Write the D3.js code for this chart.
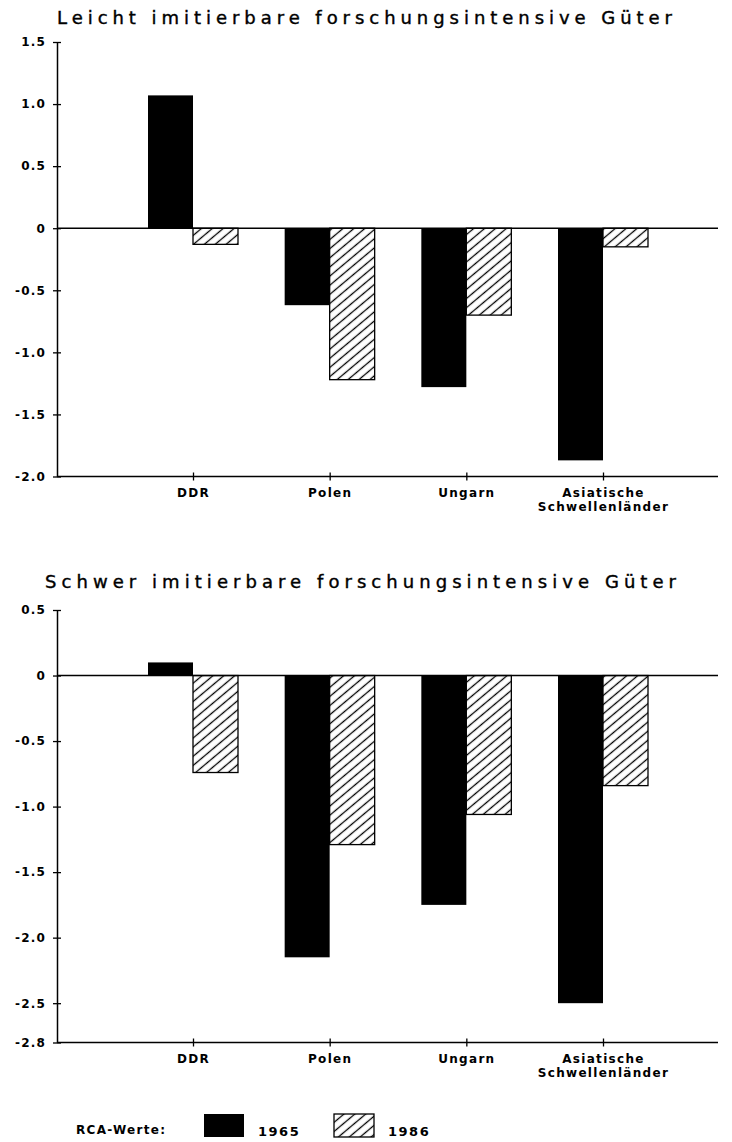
<!DOCTYPE html>
<html>
<head>
<meta charset="utf-8">
<script src="https://cdn.jsdelivr.net/npm/d3@7"></script>
<style>
  body { margin: 0; background: #fff; }
  svg { display: block; }
  text { fill: #000; font-family: "DejaVu Sans", sans-serif; }
</style>
</head>
<body>
<svg id="chart"></svg>
<script>
const width = 732;
const height = 1142;

// data
const categories = ["DDR", "Polen", "Ungarn", "Asiatische\nSchwellenländer"];
const years = ["1965", "1986"];
const leicht1965 = [1.07, -0.62, -1.28, -1.87];
const leicht1986 = [-0.13, -1.22, -0.70, -0.15];
const schwer1965 = [0.10, -2.15, -1.75, -2.50];
const schwer1986 = [-0.74, -1.29, -1.06, -0.84];
const leichtTicks = [1.5, 1.0, 0.5, 0, -0.5, -1.0, -1.5, -2.0];
const schwerTicks = [0.5, 0, -0.5, -1.0, -1.5, -2.0, -2.5, -2.8];

var svg = d3.select("#chart").attr("width", width).attr("height", height);

var defs = svg.append("defs");
var pat = defs.append("pattern").attr("id", "hatch")
  .attr("patternUnits", "userSpaceOnUse")
  .attr("width", 7).attr("height", 7)
  .attr("patternTransform", "rotate(-40)");
pat.append("rect").attr("width", 7).attr("height", 7).attr("fill", "#fff");
pat.append("line").attr("x1", 0).attr("x2", 7).attr("y1", 3.5).attr("y2", 3.5)
  .attr("stroke", "#000").attr("stroke-width", 1.3);

var axisLeftX = 57;
var axisRightX = 718;

var x = d3.scalePoint().domain(categories).range([193, 603]);
var xYear = d3.scaleBand().domain(years).range([-45, 45]);

function fmt(d) {
  return d === 0 ? "0" : d3.format(".1f")(d).replace("−", "-");
}

function drawPanel(title, titleY, titleX0, titleX1, v1965, v1986, ticks, rangeY) {
  var g = svg.append("g");
  var y = d3.scaleLinear().domain([d3.min(ticks), d3.max(ticks)]).range(rangeY);

  g.append("text")
    .attr("x", titleX0).attr("y", titleY)
    .attr("textLength", titleX1 - titleX0)
    .attr("lengthAdjust", "spacing")
    .style("font-size", "18px")
    .style("stroke", "#000").style("stroke-width", "0.4px")
    .text(title);

  // bars
  var rows = categories.map(function(c, i) {
    return [{cat: c, year: "1965", v: v1965[i]}, {cat: c, year: "1986", v: v1986[i]}];
  }).flat();

  g.selectAll("rect.bar").data(rows).enter().append("rect")
    .attr("class", "bar")
    .attr("x", function(d) { return x(d.cat) + xYear(d.year); })
    .attr("width", xYear.bandwidth())
    .attr("y", function(d) { return y(Math.max(0, d.v)); })
    .attr("height", function(d) { return Math.abs(y(d.v) - y(0)); })
    .attr("fill", function(d) { return d.year === "1965" ? "#000" : "url(#hatch)"; })
    .attr("stroke", function(d) { return d.year === "1965" ? "none" : "#000"; })
    .attr("stroke-width", 1.3);

  // zero line
  g.append("line")
    .attr("x1", axisLeftX).attr("x2", axisRightX)
    .attr("y1", y(0)).attr("y2", y(0))
    .attr("stroke", "#000").attr("stroke-width", 1.5);

  // y axis
  var ya = g.append("g").attr("transform", "translate(" + axisLeftX + ",0)")
    .call(d3.axisLeft(y).tickValues(ticks).tickFormat(fmt)
      .tickSizeInner(4).tickSizeOuter(0).tickPadding(7));
  ya.select(".domain").attr("stroke-width", 1.5);
  ya.selectAll(".tick line").attr("x1", 4).attr("stroke-width", 1.3);
  ya.selectAll(".tick text")
    .style("font-family", "'DejaVu Sans', sans-serif")
    .style("font-size", "12px").style("font-weight", "bold")
    .style("letter-spacing", "1.2px");

  // x axis
  var bottomY = y(d3.min(ticks));
  g.append("line")
    .attr("x1", axisLeftX).attr("x2", axisRightX)
    .attr("y1", bottomY).attr("y2", bottomY)
    .attr("stroke", "#000").attr("stroke-width", 1.5);
  var xa = g.append("g").attr("transform", "translate(0," + bottomY + ")")
    .call(d3.axisBottom(x).tickSizeInner(4).tickSizeOuter(0).tickFormat(""));
  xa.select(".domain").remove();
  xa.selectAll(".tick line").attr("y1", -4).attr("stroke-width", 1.3);
  xa.selectAll(".tick").each(function(d) {
    var lines = d.split("\n");
    var t = d3.select(this).append("text")
      .attr("text-anchor", "middle")
      .style("font-size", "12px").style("font-weight", "bold")
      .style("letter-spacing", "1.3px");
    lines.forEach(function(s, i) {
      t.append("tspan").attr("x", 0).attr("y", 20 + i * 14).text(s);
    });
  });
}

drawPanel("Leicht imitierbare forschungsintensive Güter", 24, 57, 672,
  leicht1965, leicht1986, leichtTicks, [476.5, 42]);
drawPanel("Schwer imitierbare forschungsintensive Güter", 588, 45, 676,
  schwer1965, schwer1986, schwerTicks, [1042.5, 610]);

// legend
var lg = svg.append("g");
lg.append("text").attr("x", 76).attr("y", 1134)
  .style("font-size", "12px").style("font-weight", "bold")
  .style("letter-spacing", "1.3px")
  .text("RCA-Werte:");
var lx = d3.scaleOrdinal().domain(years).range([204, 334]);
years.forEach(function(yr) {
  lg.append("rect").attr("x", lx(yr)).attr("y", 1114).attr("width", 40).attr("height", 23)
    .attr("fill", yr === "1965" ? "#000" : "url(#hatch)")
    .attr("stroke", yr === "1965" ? "none" : "#000").attr("stroke-width", 1.3);
  lg.append("text").attr("x", lx(yr) + 54).attr("y", 1136)
    .style("font-size", "13px").style("font-weight", "bold")
    .style("letter-spacing", "1.5px")
    .text(yr);
});
</script>
</body>
</html>
